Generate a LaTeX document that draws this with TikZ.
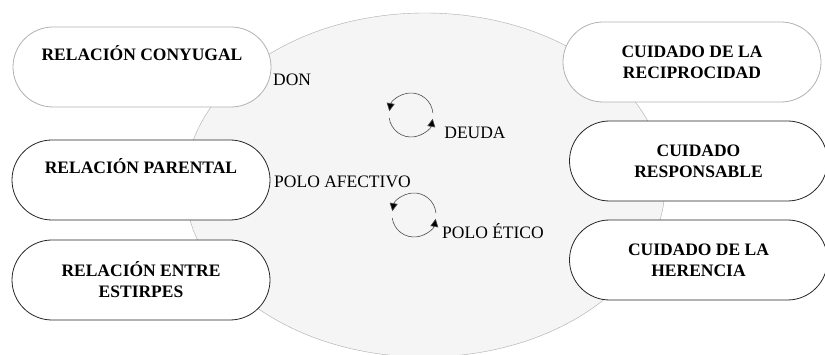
\documentclass[tikz,border=0pt]{standalone}
\usepackage{fontspec}
\setmainfont{Liberation Serif}
\usetikzlibrary{shapes.misc,arrows.meta}

\begin{document}
\begin{tikzpicture}[x=1pt,y=-1pt,
    caja/.style={rounded rectangle, draw=black!85, fill=white, line width=.8pt,
        minimum width=258pt, minimum height=80pt, inner sep=0pt, align=center,
        font=\fontsize{17.5}{21}\selectfont\bfseries},
    cajaclara/.style={caja, draw=black!30},
    rotulo/.style={font=\fontsize{17.5}{21}\selectfont, inner sep=0pt},
    ciclo/.style={draw=black!70, line width=.6pt,
        -{Triangle[length=8pt,width=8pt,fill=black]}}]

    \useasboundingbox (0,0) rectangle (825,355);

    %Elipse
    \draw[draw=black!33, fill=black!4] (425,185) ellipse (240 and 172);

    %Relaciones
    \node[cajaclara] (conyugal) at (142,67)  {RELACIÓN CONYUGAL\\\strut};
    \node[caja]      (parental) at (141,180) {RELACIÓN PARENTAL\\\strut};
    \node[caja]      (estirpes) at (141,280) {RELACIÓN ENTRE\\ESTIRPES};

    %Cuidados
    \node[cajaclara] (reciprocidad) at (692,62)    {CUIDADO DE LA\\RECIPROCIDAD};
    \node[caja]      (responsable)  at (698.5,161) {CUIDADO\\RESPONSABLE};
    \node[caja]      (herencia)     at (698.5,260) {CUIDADO DE LA\\HERENCIA};

    %Rotulos
    \node[rotulo, anchor=west] (don)      at (273,80)  {DON};
    \node[rotulo, anchor=west] (afectivo) at (274,182) {POLO AFECTIVO};
    \node[rotulo]              (deuda)    at (475,133) {DEUDA};
    \node[rotulo]              (etico)    at (493,231) {POLO ÉTICO};

    %Ciclo superior
    \draw[ciclo] (411,115) ++(-5:22)   arc(-5:-170:22);
    \draw[ciclo] (411,115) ++(-188:22) arc(-188:-350:22);

    %Ciclo inferior
    \draw[ciclo] (414,215) ++(-5:22)   arc(-5:-170:22);
    \draw[ciclo] (414,215) ++(-188:22) arc(-188:-350:22);

\end{tikzpicture}
\end{document}
